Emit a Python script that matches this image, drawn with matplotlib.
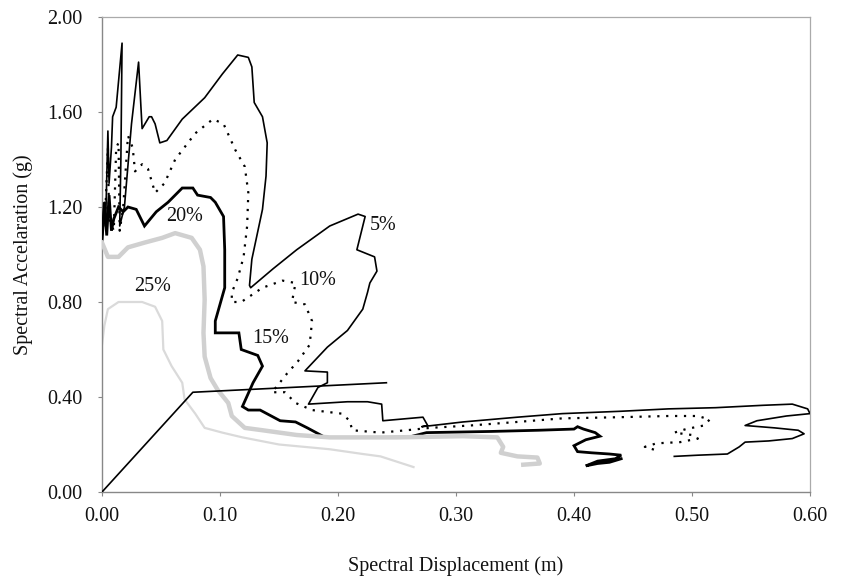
import matplotlib
matplotlib.use("Agg")
import matplotlib.pyplot as plt

# ---- data (Sd in m, Sa in g) ----
sd_5 = [0.000, 0.002, 0.003, 0.005, 0.006, 0.008, 0.009, 0.012, 0.017, 0.016, 0.015, 0.019, 0.025, 0.031, 0.033,
        0.034, 0.040, 0.042, 0.045, 0.049, 0.055, 0.068, 0.087, 0.102, 0.115, 0.124, 0.127, 0.129, 0.136, 0.140,
        0.139, 0.136, 0.130, 0.127, 0.125, 0.126, 0.145, 0.165, 0.193, 0.217, 0.223, 0.216, 0.221, 0.231, 0.233,
        0.227, 0.225, 0.221, 0.208, 0.191, 0.172, 0.191, 0.191, 0.183, 0.175, 0.208, 0.225, 0.237, 0.238, 0.272,
        0.276, 0.271, 0.280, 0.306, 0.352, 0.390, 0.440, 0.480, 0.520, 0.560, 0.585, 0.598, 0.600, 0.580, 0.555,
        0.545, 0.570, 0.590, 0.595, 0.585, 0.565, 0.545, 0.540, 0.530, 0.505, 0.485]
sa_5 = [1.10, 1.22, 1.12, 1.52, 1.30, 1.45, 1.58, 1.62, 1.89, 1.40, 1.12, 1.20, 1.55, 1.81, 1.62,
        1.53, 1.58, 1.58, 1.55, 1.47, 1.48, 1.57, 1.66, 1.76, 1.84, 1.83, 1.79, 1.64, 1.58, 1.47,
        1.33, 1.19, 1.05, 0.98, 0.87, 0.86, 0.94, 1.02, 1.12, 1.17, 1.16, 1.02, 1.01, 0.99, 0.93,
        0.88, 0.84, 0.77, 0.68, 0.61, 0.51, 0.505, 0.46, 0.44, 0.37, 0.38, 0.38, 0.37, 0.30, 0.315,
        0.28, 0.275, 0.28, 0.295, 0.315, 0.33, 0.34, 0.35, 0.355, 0.365, 0.37, 0.35, 0.33, 0.32, 0.30,
        0.28, 0.27, 0.26, 0.245, 0.225, 0.215, 0.21, 0.19, 0.16, 0.155, 0.15]

sd_10 = [0.000, 0.003, 0.005, 0.006, 0.010, 0.012, 0.014, 0.015, 0.018, 0.022, 0.026, 0.028, 0.034, 0.039, 0.045,
         0.053, 0.062, 0.079, 0.094, 0.103, 0.113, 0.121, 0.124, 0.123, 0.120, 0.115, 0.110, 0.110, 0.118, 0.136,
         0.153, 0.164, 0.161, 0.172, 0.178, 0.176, 0.166, 0.157, 0.149, 0.144, 0.155, 0.164, 0.178, 0.203, 0.210,
         0.212, 0.236, 0.258, 0.278, 0.312, 0.352, 0.390, 0.439, 0.480, 0.505, 0.515, 0.510, 0.495, 0.485, 0.500,
         0.505, 0.490, 0.470, 0.460, 0.470]
sa_10 = [1.08, 1.20, 1.45, 1.15, 1.10, 1.45, 1.47, 1.10, 1.20, 1.50, 1.45, 1.35, 1.38, 1.36, 1.26,
         1.30, 1.40, 1.51, 1.57, 1.55, 1.44, 1.37, 1.26, 1.12, 0.99, 0.90, 0.84, 0.80, 0.80, 0.86,
         0.89, 0.88, 0.80, 0.79, 0.72, 0.62, 0.55, 0.50, 0.45, 0.42, 0.42, 0.375, 0.345, 0.33, 0.30,
         0.26, 0.25, 0.26, 0.27, 0.28, 0.295, 0.31, 0.315, 0.32, 0.32, 0.305, 0.28, 0.265, 0.25, 0.24,
         0.225, 0.21, 0.205, 0.19, 0.175]

sd_15 = [0.000, 0.002, 0.004, 0.006, 0.008, 0.010, 0.014, 0.018, 0.022, 0.029, 0.036, 0.046, 0.056, 0.068, 0.077,
         0.081, 0.092, 0.096, 0.103, 0.104, 0.104, 0.096, 0.096, 0.116, 0.118, 0.132, 0.136, 0.128, 0.119, 0.124,
         0.134, 0.151, 0.164, 0.174, 0.189, 0.220, 0.260, 0.275, 0.330, 0.370, 0.400, 0.403, 0.408, 0.418, 0.422,
         0.410, 0.400, 0.403, 0.415, 0.430, 0.440, 0.435, 0.420, 0.410, 0.420, 0.430, 0.440]
sa_15 = [1.05, 1.22, 1.08, 1.25, 1.10, 1.15, 1.20, 1.18, 1.20, 1.19, 1.12, 1.18, 1.22, 1.28, 1.28,
         1.25, 1.24, 1.22, 1.16, 1.02, 0.86, 0.72, 0.67, 0.67, 0.60, 0.575, 0.53, 0.46, 0.36, 0.345,
         0.345, 0.30, 0.295, 0.27, 0.23, 0.229, 0.231, 0.25, 0.255, 0.26, 0.265, 0.275, 0.265, 0.25, 0.235,
         0.22, 0.195, 0.17, 0.165, 0.16, 0.155, 0.14, 0.13, 0.11, 0.12, 0.125, 0.14]

sd_20 = [0.000, 0.005, 0.014, 0.022, 0.036, 0.051, 0.062, 0.076, 0.083, 0.086, 0.087, 0.086, 0.087, 0.092, 0.098,
         0.107, 0.110, 0.121, 0.136, 0.165, 0.193, 0.250, 0.306, 0.335, 0.340, 0.338, 0.352, 0.369, 0.371, 0.357]
sa_20 = [1.05, 0.99, 0.99, 1.03, 1.05, 1.07, 1.09, 1.07, 1.02, 0.95, 0.81, 0.67, 0.57, 0.48, 0.43,
         0.375, 0.32, 0.27, 0.26, 0.24, 0.23, 0.23, 0.235, 0.23, 0.19, 0.165, 0.15, 0.145, 0.12, 0.115]

sd_25 = [0.000, 0.002, 0.005, 0.014, 0.022, 0.034, 0.045, 0.051, 0.052, 0.059, 0.068, 0.070, 0.079, 0.087, 0.102,
         0.119, 0.150, 0.193, 0.221, 0.236, 0.264]
sa_25 = [0.62, 0.70, 0.77, 0.80, 0.80, 0.80, 0.78, 0.72, 0.60, 0.53, 0.46, 0.39, 0.33, 0.27, 0.25,
         0.23, 0.20, 0.18, 0.16, 0.15, 0.105]

sd_cap = [0.0, 0.077, 0.241]
sa_cap = [0.0, 0.42, 0.46]

damping_labels = ["5%", "10%", "15%", "20%", "25%"]
label_sd = [0.227, 0.183, 0.143, 0.070, 0.043]
label_sa = [1.12, 0.89, 0.645, 1.16, 0.865]
label_ha = ["left", "center", "center", "center", "center"]

x_ticks = [0.0, 0.1, 0.2, 0.3, 0.4, 0.5, 0.6]
y_ticks = [0.0, 0.4, 0.8, 1.2, 1.6, 2.0]

# ---- figure ----
plt.rcParams['font.family'] = ['Liberation Serif', 'DejaVu Serif']
fig = plt.figure(figsize=(8.42, 5.82), dpi=100)
ax = fig.add_axes([102 / 842, 1 - 492 / 582, 708 / 842, 475 / 582])

ax.plot(sd_25, sa_25, color='#dadada', lw=1.6, zorder=2, solid_joinstyle='round')
ax.plot(sd_15, sa_15, color='black', lw=2.0, zorder=3, solid_joinstyle='miter')
ax.plot(sd_20, sa_20, color='#d0d0d0', lw=3.2, zorder=4, solid_joinstyle='round')
ax.plot(sd_10, sa_10, color='black', lw=1.6, ls=(0, (1.0, 3.0)), zorder=5)
ax.plot(sd_5, sa_5, color='black', lw=1.2, zorder=6)
ax.plot(sd_cap, sa_cap, color='black', lw=1.2, zorder=7)

for t, x, y, ha in zip(damping_labels, label_sd, label_sa, label_ha):
    ax.text(x, y, t, fontsize=14.5, ha=ha, va='center', color='#111111', zorder=8)

ax.set_xlim(0, 0.6)
ax.set_ylim(0, 2.0)
ax.set_xticks(x_ticks)
ax.set_yticks(y_ticks)
ax.set_xticklabels([f"{v:.2f}" for v in x_ticks])
ax.set_yticklabels([f"{v:.2f}" for v in y_ticks])
ax.tick_params(axis='both', direction='out', length=3, width=0.8, color='#888888',
               labelsize=14.5, labelcolor='#111111')
ax.tick_params(axis='x', pad=8)
ax.tick_params(axis='y', pad=11)

for side in ['left', 'bottom']:
    ax.spines[side].set_color('#888888')
    ax.spines[side].set_linewidth(1.0)
for side in ['top', 'right']:
    ax.spines[side].set_color('#aaaaaa')
    ax.spines[side].set_linewidth(0.9)

ax.set_xlabel("Spectral Displacement (m)", fontsize=14.5, color='#111111')
ax.set_ylabel("Spectral Accelaration (g)", fontsize=14.5, color='#111111')
ax.xaxis.set_label_coords(0.5, -0.135)
ax.yaxis.set_label_coords(-0.097, 0.5)

fig.savefig("out.png", dpi=100)
